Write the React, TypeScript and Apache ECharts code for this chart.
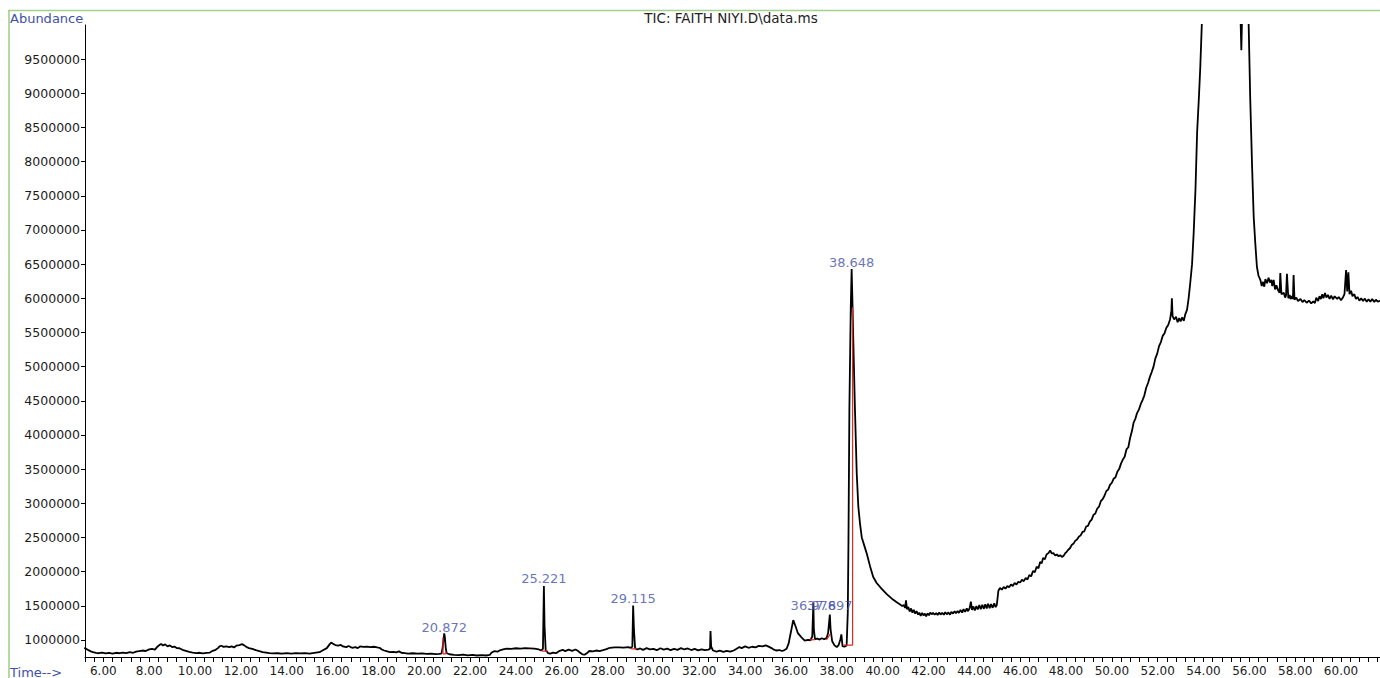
import React, { useEffect, useRef } from "react";
import * as echarts from "echarts";

// Total ion chromatogram, [retention time (min), abundance]
const ticEarly: [number, number][] = [
  [5.17, 885000], [5.25, 870000], [5.35, 850000], [5.45, 832000], [5.55, 820000], [5.68, 812000], [5.8, 805000],
  [5.95, 815000], [6.1, 802000], [6.25, 810000], [6.4, 800000], [6.55, 812000], [6.7, 805000], [6.85, 815000],
  [7.0, 808000], [7.15, 820000], [7.3, 812000], [7.43, 828000], [7.55, 835000], [7.7, 845000], [7.85, 838000],
  [8.0, 862000], [8.12, 870000], [8.25, 858000], [8.37, 905000], [8.45, 925000], [8.52, 942000], [8.6, 918000],
  [8.7, 935000], [8.8, 905000], [8.9, 920000], [9.0, 895000], [9.1, 902000], [9.2, 880000], [9.32, 878000],
  [9.45, 855000], [9.6, 840000], [9.75, 825000], [9.9, 815000], [10.05, 808000], [10.2, 812000], [10.35, 803000],
  [10.5, 810000], [10.65, 815000], [10.77, 840000], [10.9, 855000], [11.0, 880000], [11.07, 905000], [11.15, 915000],
  [11.25, 898000], [11.36, 905000], [11.5, 895000], [11.6, 905000], [11.7, 890000], [11.8, 915000], [11.94, 925000],
  [12.05, 938000], [12.15, 920000], [12.23, 900000], [12.35, 880000], [12.5, 868000], [12.65, 850000], [12.81, 835000],
  [12.95, 822000], [13.1, 815000], [13.25, 808000], [13.39, 803000], [13.6, 805000], [13.8, 798000], [14.0, 806000],
  [14.2, 800000], [14.4, 808000], [14.6, 802000], [14.8, 806000], [15.0, 800000], [15.2, 810000], [15.43, 820000],
  [15.6, 852000], [15.75, 880000], [15.87, 935000], [15.94, 960000], [16.02, 945000], [16.12, 925000], [16.25, 915000],
  [16.35, 928000], [16.45, 905000], [16.6, 895000], [16.7, 912000], [16.85, 885000], [17.0, 895000], [17.1, 880000],
  [17.2, 905000], [17.35, 898000], [17.5, 902000], [17.65, 895000], [17.8, 900000], [17.95, 890000], [18.05, 885000],
  [18.15, 860000], [18.25, 845000], [18.35, 835000], [18.5, 820000], [18.65, 825000], [18.78, 818000], [18.9, 832000],
  [19.0, 812000], [19.15, 808000], [19.3, 800000], [19.5, 805000], [19.7, 798000], [19.9, 802000], [20.1, 796000],
  [20.3, 800000], [20.5, 793000], [20.65, 797000], [20.75, 800000], [20.8, 880000], [20.84, 1000000], [20.872, 1095000],
  [20.9, 1040000], [20.94, 880000], [20.98, 805000],
];

const ticMid: [number, number][] = [
  [21.1, 790000], [21.3, 782000], [21.5, 776000], [21.7, 784000], [21.9, 774000], [22.1, 780000], [22.3, 772000],
  [22.5, 778000], [22.7, 772000], [22.86, 780000], [22.93, 812000], [23.05, 835000], [23.2, 828000], [23.3, 848000],
  [23.44, 862000], [23.6, 872000], [23.8, 868000], [24.0, 878000], [24.2, 874000], [24.4, 880000], [24.6, 876000],
  [24.8, 872000], [25.0, 860000], [25.1, 845000], [25.18, 870000], [25.221, 1790000], [25.25, 1200000], [25.3, 850000],
  [25.4, 808000], [25.5, 800000], [25.62, 815000], [25.75, 805000], [25.91, 840000], [26.05, 855000], [26.15, 835000],
  [26.3, 858000], [26.45, 840000], [26.6, 860000], [26.7, 842000], [26.79, 815000], [26.9, 790000], [27.0, 785000],
  [27.08, 800000], [27.2, 838000], [27.35, 832000], [27.5, 845000], [27.65, 836000], [27.8, 850000], [27.95, 865000],
  [28.1, 885000], [28.3, 890000], [28.5, 892000], [28.7, 888000], [28.9, 895000], [29.0, 885000], [29.08, 900000],
  [29.115, 1505000], [29.15, 1150000], [29.2, 880000], [29.3, 860000], [29.42, 875000], [29.55, 855000], [29.7, 880000],
  [29.85, 862000], [30.0, 870000], [30.15, 850000], [30.3, 878000], [30.45, 858000], [30.6, 872000], [30.75, 850000],
  [30.9, 868000], [31.05, 855000], [31.2, 880000], [31.35, 860000], [31.5, 875000], [31.65, 852000], [31.8, 870000],
  [31.95, 848000], [32.1, 862000], [32.25, 850000], [32.4, 858000], [32.47, 870000], [32.49, 1130000], [32.52, 900000],
  [32.6, 845000], [32.75, 830000], [32.9, 842000], [33.05, 825000], [33.2, 838000], [33.35, 828000], [33.5, 845000],
  [33.63, 870000], [33.75, 895000], [33.85, 880000], [34.0, 905000], [34.15, 885000], [34.3, 900000], [34.45, 890000],
  [34.6, 912000], [34.75, 905000], [34.9, 920000], [35.05, 898000], [35.15, 880000], [35.23, 862000], [35.35, 845000],
  [35.5, 852000], [35.6, 838000], [35.7, 848000], [35.81, 870000], [35.9, 950000], [36.0, 1120000], [36.1, 1290000],
  [36.2, 1200000], [36.3, 1100000], [36.45, 1040000], [36.6, 990000], [36.74, 1000000], [36.85, 995000],
  [36.93, 1050000], [36.978, 1545000], [37.0, 1150000], [37.05, 1010000], [37.15, 1020000], [37.25, 1005000],
  [37.35, 1025000], [37.45, 1010000], [37.56, 1030000], [37.62, 1100000], [37.697, 1370000], [37.73, 1150000],
  [37.8, 980000], [37.9, 920000], [38.0, 895000], [38.08, 925000], [38.15, 1000000], [38.2, 1080000], [38.25, 910000],
  [38.33, 900000], [38.43, 920000],
];

const ticLate: [number, number][] = [
  [38.48, 1400000], [38.51, 2460000], [38.55, 4400000], [38.61, 5870000], [38.648, 6430000], [38.69, 5850000],
  [38.72, 5390000], [38.79, 4410000], [38.87, 3440000], [38.94, 2950000], [39.01, 2711000], [39.09, 2500000],
  [39.2, 2380000], [39.31, 2260000], [39.45, 2080000], [39.59, 1920000], [39.74, 1833000], [39.95, 1750000],
  [40.18, 1670000], [40.45, 1590000], [40.6, 1555000], [40.76, 1520000], [40.85, 1495000], [40.92, 1510000],
  [40.98, 1470000], [41.02, 1580000], [41.06, 1450000], [41.12, 1480000], [41.18, 1415000], [41.24, 1460000],
  [41.3, 1400000], [41.36, 1440000], [41.42, 1385000], [41.48, 1420000], [41.55, 1370000], [41.6, 1400000],
  [41.66, 1350000], [41.72, 1395000], [41.78, 1360000], [41.84, 1385000], [41.9, 1345000], [41.96, 1390000],
  [42.02, 1360000], [42.08, 1400000], [42.14, 1375000], [42.2, 1395000], [42.27, 1370000], [42.34, 1392000],
  [42.4, 1365000], [42.47, 1400000], [42.53, 1372000], [42.6, 1396000], [42.67, 1368000], [42.73, 1405000],
  [42.8, 1375000], [42.87, 1402000], [42.94, 1370000], [43.0, 1410000], [43.07, 1385000], [43.14, 1420000],
  [43.2, 1390000], [43.27, 1425000], [43.33, 1395000], [43.4, 1440000], [43.47, 1400000], [43.53, 1450000],
  [43.6, 1410000], [43.67, 1460000], [43.73, 1420000], [43.8, 1470000], [43.85, 1560000], [43.9, 1440000],
  [43.96, 1490000], [44.02, 1430000], [44.09, 1495000], [44.15, 1445000], [44.22, 1510000], [44.28, 1450000],
  [44.35, 1515000], [44.41, 1455000], [44.48, 1520000], [44.54, 1460000], [44.6, 1530000], [44.67, 1465000],
  [44.73, 1525000], [44.8, 1470000], [44.87, 1535000], [44.93, 1480000], [44.98, 1510000], [45.05, 1720000],
  [45.12, 1760000], [45.2, 1735000], [45.28, 1775000], [45.36, 1750000], [45.44, 1790000], [45.52, 1770000],
  [45.6, 1810000], [45.68, 1790000], [45.76, 1835000], [45.84, 1810000], [45.92, 1850000], [46.0, 1840000],
  [46.08, 1880000], [46.16, 1860000], [46.24, 1905000], [46.32, 1885000], [46.4, 1950000], [46.48, 1930000],
  [46.56, 2010000], [46.64, 1990000], [46.72, 2070000], [46.8, 2050000], [46.87, 2140000], [46.94, 2120000],
  [47.0, 2200000], [47.08, 2180000], [47.15, 2250000], [47.23, 2270000], [47.31, 2310000], [47.38, 2265000],
  [47.45, 2270000], [47.53, 2235000], [47.6, 2250000], [47.68, 2225000], [47.75, 2240000], [47.82, 2215000],
  [47.89, 2230000], [47.96, 2265000], [48.03, 2290000], [48.1, 2320000], [48.18, 2345000], [48.25, 2390000],
  [48.33, 2410000], [48.4, 2450000], [48.48, 2470000], [48.56, 2510000], [48.64, 2530000], [48.72, 2580000],
  [48.8, 2590000], [48.88, 2660000], [48.96, 2670000], [49.04, 2730000], [49.12, 2760000], [49.2, 2830000],
  [49.28, 2850000], [49.36, 2920000], [49.44, 2950000], [49.52, 3030000], [49.6, 3060000], [49.68, 3110000],
  [49.76, 3180000], [49.84, 3200000], [49.92, 3270000], [50.0, 3300000], [50.08, 3360000], [50.16, 3380000],
  [50.24, 3460000], [50.32, 3500000], [50.4, 3580000], [50.48, 3640000], [50.56, 3680000], [50.64, 3790000],
  [50.72, 3820000], [50.8, 3960000], [50.88, 4060000], [50.95, 4180000], [51.03, 4240000], [51.1, 4320000],
  [51.18, 4370000], [51.26, 4450000], [51.34, 4510000], [51.42, 4580000], [51.5, 4690000], [51.58, 4760000],
  [51.66, 4850000], [51.74, 4920000], [51.82, 5000000], [51.9, 5120000], [51.98, 5190000], [52.06, 5300000],
  [52.14, 5360000], [52.22, 5450000], [52.3, 5490000], [52.38, 5570000], [52.46, 5610000], [52.54, 5690000],
  [52.6, 5820000], [52.62, 6000000], [52.65, 5740000], [52.72, 5690000], [52.8, 5730000], [52.87, 5650000],
  [52.94, 5710000], [53.0, 5660000], [53.07, 5720000], [53.14, 5670000], [53.2, 5760000], [53.28, 5830000],
  [53.35, 6000000], [53.42, 6220000], [53.5, 6500000], [53.57, 6950000], [53.65, 7600000], [53.72, 8420000],
  [53.8, 8950000], [53.86, 9390000], [53.93, 10050000], [54.2, 12000000], [54.8, 14000000], [55.3, 12500000],
  [55.6, 10300000], [55.65, 9630000], [55.7, 10400000], [55.85, 11000000], [55.97, 10000000], [56.04, 8900000],
  [56.12, 7920000], [56.19, 7190000], [56.26, 6800000], [56.33, 6460000], [56.4, 6330000], [56.48, 6270000],
  [56.54, 6180000], [56.6, 6240000], [56.65, 6170000], [56.7, 6280000], [56.77, 6220000], [56.84, 6300000],
  [56.9, 6230000], [56.96, 6270000], [57.0, 6180000], [57.06, 6270000], [57.12, 6130000], [57.18, 6190000],
  [57.25, 6120000], [57.32, 6080000], [57.35, 6370000], [57.4, 6060000], [57.5, 6080000], [57.56, 6010000],
  [57.6, 6040000], [57.64, 6360000], [57.7, 6000000], [57.76, 6050000], [57.8, 5990000], [57.86, 6030000],
  [57.9, 5990000], [57.93, 6340000], [57.97, 5980000], [58.05, 6010000], [58.12, 5960000], [58.23, 5990000],
  [58.32, 5945000], [58.4, 5975000], [58.5, 5935000], [58.6, 5965000], [58.7, 5925000], [58.79, 5955000],
  [58.86, 5930000], [58.92, 6010000], [59.0, 5960000], [59.06, 6030000], [59.12, 5990000], [59.18, 6060000],
  [59.23, 6000000], [59.3, 6078000], [59.36, 6010000], [59.43, 6050000], [59.5, 5990000], [59.57, 6040000],
  [59.65, 5985000], [59.72, 6030000], [59.83, 5990000], [59.9, 6020000], [60.0, 5970000], [60.08, 6010000],
  [60.15, 6060000], [60.22, 6414000], [60.27, 6100000], [60.32, 6380000], [60.37, 6060000], [60.44, 6110000],
  [60.5, 6030000], [60.58, 6060000], [60.65, 5990000], [60.72, 6020000], [60.8, 5965000], [60.88, 6000000],
  [60.96, 5960000], [61.04, 5995000], [61.12, 5950000], [61.2, 5985000], [61.28, 5950000], [61.36, 5990000],
  [61.45, 5945000], [61.52, 5980000], [61.6, 5950000], [61.72, 5965000],
];

// Integrated peaks: retention times and label anchor levels
const peakTimes = [20.872, 25.221, 29.115, 36.978, 37.697, 38.648];
const peakLabelLevels = [1189000, 1892000, 1599000, 1511000, 1511000, 6531000];

// Red integration marks (baselines and drop lines)
const integrationMarks: [number, number][][] = [
  [[20.82, 1030000], [20.82, 795000], [20.95, 795000], [20.95, 830000]],
  [[25.13, 850000], [25.16, 835000], [25.33, 835000], [25.36, 850000]],
  [[29.03, 880000], [29.05, 870000], [29.24, 868000], [29.27, 880000]],
  [[36.83, 1000000], [37.05, 1005000]],
  [[37.55, 1000000], [37.72, 1090000]],
  [[38.28, 925000], [38.69, 925000], [38.69, 5870000]],
];

const yTickValues = [
  1000000, 1500000, 2000000, 2500000, 3000000, 3500000, 4000000, 4500000, 5000000,
  5500000, 6000000, 6500000, 7000000, 7500000, 8000000, 8500000, 9000000, 9500000,
];
const xLabelValues = [
  6, 8, 10, 12, 14, 16, 18, 20, 22, 24, 26, 28, 30, 32, 34, 36, 38, 40, 42, 44, 46, 48, 50, 52, 54, 56, 58, 60,
];

const X_MIN = 5.2;
const X_MAX = 61.7;
const Y_MIN = 750000;
const Y_MAX = 10000000;

const xMinorTicks: number[] = [];
for (let i = 0; i <= 141; i++) {
  xMinorTicks.push(Math.round((5.2 + i * 0.4) * 10) / 10);
}

const BLUE = "#4150aa";
const FONT = "DejaVu Sans";

export default function App() {
  const ref = useRef<HTMLDivElement>(null);

  useEffect(() => {
    if (!ref.current) return;
    const chart = echarts.init(ref.current, undefined, { renderer: "svg" });

    const trace = [...ticEarly, ...ticMid, ...ticLate];

    const option: any = {
      animation: false,
      backgroundColor: "#ffffff",
      grid: { left: 85, right: 0, top: 25, bottom: 21, containLabel: false },
      xAxis: {
        type: "value",
        min: X_MIN,
        max: X_MAX,
        axisLine: { show: true, onZero: false, lineStyle: { color: "#000", width: 1 } },
        axisTick: { show: true, customValues: xMinorTicks, length: 5, lineStyle: { color: "#000", width: 1 } },
        axisLabel: {
          show: true,
          customValues: xLabelValues,
          formatter: (v: number) => v.toFixed(2),
          color: "#1c1c1c",
          fontFamily: FONT,
          fontSize: 12,
          margin: 8,
        },
        splitLine: { show: false },
      },
      yAxis: {
        type: "value",
        min: Y_MIN,
        max: Y_MAX,
        axisLine: { show: true, onZero: false, lineStyle: { color: "#000", width: 1 } },
        axisTick: { show: true, customValues: yTickValues, length: 4, lineStyle: { color: "#000", width: 1 } },
        axisLabel: {
          show: true,
          customValues: yTickValues,
          formatter: (v: number) => String(v),
          color: "#1c1c1c",
          fontFamily: FONT,
          fontSize: 12.5,
          margin: 5,
        },
        splitLine: { show: false },
      },
      series: [
        {
          type: "line",
          data: trace,
          showSymbol: false,
          symbol: "none",
          clip: true,
          lineStyle: { color: "#000000", width: 1.8 },
          z: 3,
        },
        ...integrationMarks.map((path) => ({
          type: "line",
          data: path,
          showSymbol: false,
          symbol: "none",
          clip: true,
          lineStyle: { color: "#e02828", width: 1.2 },
          z: 4,
        })),
        {
          type: "scatter",
          data: peakTimes.map((t, i) => ({ value: [t, peakLabelLevels[i]], name: t.toFixed(3) })),
          symbolSize: 1,
          itemStyle: { color: "rgba(0,0,0,0)" },
          label: {
            show: true,
            position: "inside",
            formatter: (p: any) => p.name,
            color: BLUE,
            fontFamily: FONT,
            fontSize: 13,
          },
          z: 5,
        },
      ],
      graphic: [
        {
          type: "line",
          shape: { x1: 8, y1: 10.5, x2: 1380, y2: 10.5 },
          style: { stroke: "#a3d08a", lineWidth: 1.6 },
        },
        {
          type: "line",
          shape: { x1: 9, y1: 10, x2: 9, y2: 678 },
          style: { stroke: "#a3d08a", lineWidth: 1.6 },
        },
        {
          type: "text",
          style: { text: "Abundance", x: 10, y: 18, align: "left", verticalAlign: "middle", fill: BLUE, fontFamily: FONT, fontSize: 13 },
        },
        {
          type: "text",
          style: {
            text: "TIC: FAITH NIYI.D\\data.ms",
            x: 731,
            y: 18,
            align: "center",
            verticalAlign: "middle",
            fill: "#222222",
            fontFamily: FONT,
            fontSize: 13.5,
          },
        },
        {
          type: "text",
          style: { text: "Time-->", x: 10, y: 672, align: "left", verticalAlign: "middle", fill: BLUE, fontFamily: FONT, fontSize: 13 },
        },
      ],
    };

    chart.setOption(option);
    return () => chart.dispose();
  }, []);

  return (
    <div
      ref={ref}
      style={{ position: "fixed", left: 0, top: 0, width: 1380, height: 678, background: "#fff" }}
    />
  );
}
